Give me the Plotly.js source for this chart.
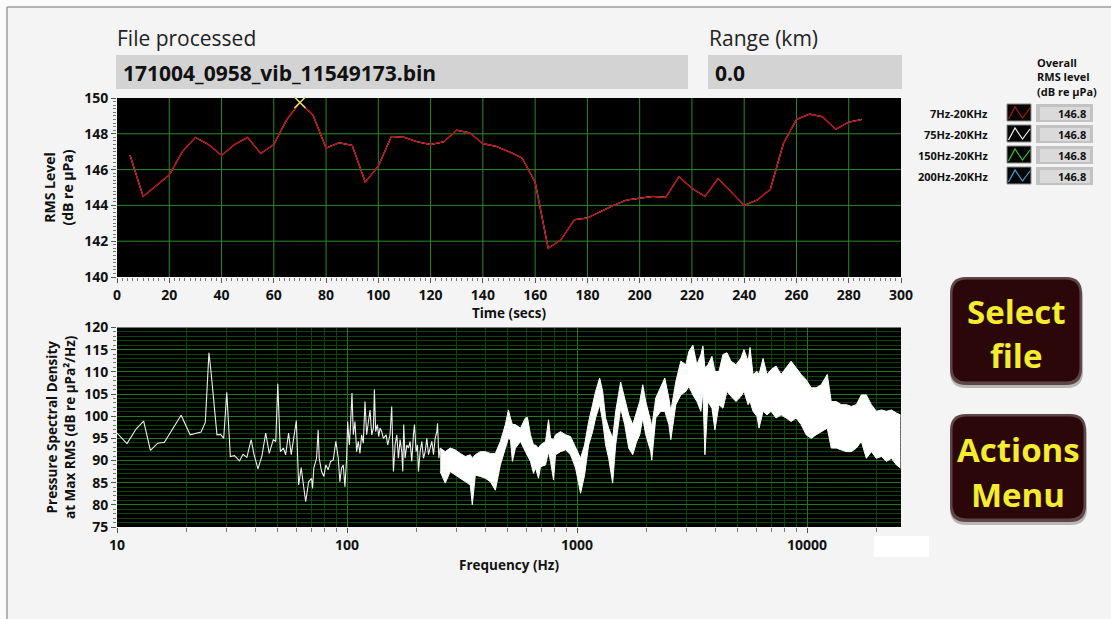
<!DOCTYPE html>
<html>
<head>
<meta charset="utf-8">
<script src="https://cdn.plot.ly/plotly-3.0.1.min.js"></script>
<style>
  html, body { margin: 0; padding: 0; background: #f4f4f4; }
  #panel { width: 1111px; height: 619px; }
</style>
</head>
<body>
<div id="panel"></div>
<script>
// ---- Recording summary ----
const fileName = '171004_0958_vib_11549173.bin';
const rangeKm = 0.0;

// ---- RMS level over time (dB re µPa), one value every 5 s ----
const timeSecs = [5, 10, 15, 20, 25, 30, 35, 40, 45, 50, 55, 60, 65, 70, 75, 80, 85, 90, 95, 100,
  105, 110, 115, 120, 125, 130, 135, 140, 145, 150, 155, 160, 165, 170, 175, 180, 185, 190, 195, 200,
  205, 210, 215, 220, 225, 230, 235, 240, 245, 250, 255, 260, 265, 270, 275, 280, 285];
const rmsLevel = [146.8, 144.5, 145.1, 145.7, 147.0, 147.8, 147.4, 146.8, 147.4, 147.8, 146.9, 147.4, 148.8, 149.75, 149.05, 147.2, 147.5, 147.35, 145.3, 146.2,
  147.85, 147.8, 147.55, 147.4, 147.55, 148.2, 148.05, 147.45, 147.3, 147.0, 146.65, 145.3, 141.6, 142.1, 143.2, 143.3, 143.65, 144.0, 144.3, 144.4,
  144.5, 144.45, 145.6, 144.95, 144.5, 145.5, 144.75, 144.0, 144.3, 144.9, 147.45, 148.8, 149.1, 148.95, 148.25, 148.65, 148.8];

// ---- Frequency bands and their overall RMS level ----
const bandNames = ['7Hz-20KHz', '75Hz-20KHz', '150Hz-20KHz', '200Hz-20KHz'];
const overallRms = [146.8, 146.8, 146.8, 146.8];

// ---- PSD at the max-RMS instant, low-frequency part (single line) ----
const psdLineFreq = [10.0, 11.05, 12.1, 13.06, 13.97, 15.03, 16.07, 17.48, 19.0, 20.8,
  23.2, 24.2, 25.1, 25.7, 26.6, 27.2, 28.2, 29.1, 30.0, 31.1,
  32.4, 34.1, 35.3, 36.7, 38.3, 39.4, 41.0, 42.7, 44.3, 45.9,
  47.8, 49.0, 50.0, 51.3, 52.9, 54.1, 55.7, 57.2, 60.2, 61.6,
  63.2, 66.1, 68.1,
  70.1, 70.8, 71.7, 73.7, 74.9, 75.7, 77.5, 79.3, 80.9, 82.8,
  84.8, 87.1, 89.4, 91.6, 93.1, 94.7, 96.3, 97.9, 99.6, 100.6,
  102.3, 103.6, 105.1, 106.5, 108.3, 110.1, 111.9, 113.8, 115.7, 117.7,
  119.7, 121.7, 123.8, 125.9, 128.0, 130.2, 131.5, 133.2, 135.5, 137.3,
  139.2, 141.5, 143.9, 147.8, 150.3, 153.8, 156.4, 159.1, 161.8, 164.5,
  167.3, 170.1, 172.9, 174.7, 176.4, 178.8, 181.9, 184.9, 188.0, 191.2,
  194.4, 196.4, 199.7, 202.4, 204.4, 207.9, 211.4, 214.9, 218.6, 222.3,
  226.0, 229.8, 233.7, 237.6, 241.6, 245.7, 247.4, 250.7, 254.1];
const psdLineLevel = [96.2, 93.8, 97.1, 98.9, 92.3, 93.9, 94.1, 97.1, 100.2, 95.8,
  96.4, 98.6, 114.3, 109.4, 100.3, 95.8, 95.9, 95.0, 105.4, 90.9,
  91.1, 89.9, 91.4, 90.7, 94.7, 91.4, 88.1, 91.1, 96.2, 91.6,
  94.7, 94.3, 107.3, 92.0, 92.8, 91.3, 96.2, 91.3, 99.0, 84.5,
  88.4, 80.7, 85.2,
  86.0, 83.7, 88.3, 90.5, 96.9, 90.5, 87.5, 86.4, 89.0, 87.9,
  89.8, 90.1, 94.3, 90.5, 85.2, 88.3, 89.0, 84.1, 90.5, 98.8,
  93.5, 98.1, 105.2, 95.8, 98.8, 92.0, 94.3, 91.6, 95.8, 93.9,
  103.3, 95.8, 98.8, 101.4, 95.8, 97.3, 106.0, 96.5, 98.1, 95.4,
  97.3, 96.5, 95.0, 95.8, 93.5, 95.8, 102.2, 87.5, 93.5, 95.8,
  90.5, 94.7, 92.0, 87.5, 98.1, 90.5, 93.5, 92.8, 94.3, 89.8,
  95.8, 98.1, 92.0, 93.5, 87.5, 92.0, 94.3, 90.5, 92.0, 95.0,
  91.3, 92.8, 94.3, 91.3, 95.0, 96.5, 98.4, 90.5, 92.8];

// ---- PSD, dense part: upper and lower envelope per frequency ----
const psdBandFreq = [254.1, 267.2, 280.9, 295.4, 310.6, 326.6, 343.4, 350.4, 361.1, 379.7,
  399.3, 419.8, 441.4, 464.1, 488.0, 502.9, 513.2, 523.6, 539.6, 567.4,
  596.5, 608.6, 627.3, 646.5, 659.6, 679.8, 693.5, 729.2, 751.5, 766.7,
  790.2, 806.2, 847.7, 891.3, 937.0, 985.2, 1036, 1078, 1123, 1168,
  1204, 1254, 1292, 1331, 1372, 1428, 1472, 1547, 1611, 1677,
  1746, 1817, 1873, 1930, 1989, 2091, 2112, 2199, 2312, 2407,
  2506, 2556, 2688, 2826, 2972, 3063, 3188, 3319, 3455, 3525,
  3596, 3706, 3858, 3976, 4139, 4308, 4484, 4668, 4909, 5160,
  5319, 5537, 5649, 5821, 6060, 6182, 6435, 6698, 6973, 7331,
  7709, 8104, 8521, 8959, 9423, 9908, 10419, 10955, 11518, 12237,
  12735, 13391, 14080, 14804, 15566, 16368, 17210, 18096, 19027, 20006,
  21037, 22118, 23257, 24454, 25449];
const psdBandHigh = [92.8, 92.0, 92.8, 92.4, 91.6, 90.9, 91.3, 90.5, 91.3, 92.0,
  92.0, 91.6, 91.6, 94.3, 98.1, 101.4, 99.6, 98.1, 98.1, 97.3,
  99.6, 99.7, 95.8, 93.5, 93.5, 92.8, 93.5, 94.3, 99.2, 95.0,
  94.7, 95.8, 96.5, 95.8, 95.4, 92.8, 90.5, 93.5, 98.8, 102.6,
  105.6, 108.6, 105.6, 99.6, 97.3, 95.0, 101.1, 107.7, 104.1, 100.3,
  98.1, 101.1, 103.3, 107.1, 103.3, 98.8, 97.5, 104.1, 106.4, 108.6,
  104.1, 101.1, 107.8, 112.4, 111.6, 114.6, 116.0, 111.6, 113.9, 115.8,
  110.9, 111.6, 113.5, 110.1, 110.1, 113.9, 114.3, 112.4, 111.6, 113.1,
  115.0, 112.4, 115.5, 109.4, 110.1, 109.4, 113.0, 109.4, 110.5, 111.3,
  109.4, 110.9, 112.4, 110.9, 109.4, 108.2, 106.4, 106.4, 107.1, 109.4,
  103.3, 103.3, 102.6, 102.6, 102.2, 102.6, 104.8, 104.8, 102.6, 101.1,
  101.4, 101.1, 101.4, 100.7, 100.3];
const psdBandLow = [87.5, 84.9, 87.5, 86.7, 86.0, 85.2, 84.5, 80.0, 86.7, 86.4,
  86.0, 85.2, 83.3, 89.0, 92.8, 95.0, 94.7, 89.8, 92.8, 94.3,
  92.0, 91.0, 89.8, 87.1, 88.3, 86.0, 88.6, 89.0, 92.0, 89.8,
  85.6, 91.3, 92.0, 92.4, 91.3, 88.3, 82.6, 86.7, 93.5, 96.5,
  99.6, 102.6, 98.8, 93.5, 90.5, 84.9, 93.5, 101.8, 98.1, 92.8,
  91.3, 94.3, 95.8, 99.6, 95.8, 92.0, 90.1, 99.6, 101.1, 101.1,
  98.1, 94.7, 102.6, 104.8, 105.6, 106.7, 104.8, 103.3, 101.1, 105.6,
  91.3, 103.3, 101.8, 96.9, 102.6, 101.8, 105.6, 104.5, 103.3, 104.5,
  105.6, 102.6, 103.3, 101.1, 99.9, 97.3, 101.1, 100.3, 101.1, 99.6,
  100.3, 99.6, 98.8, 99.6, 98.1, 95.8, 95.0, 95.8, 96.5, 97.3,
  92.8, 92.8, 92.4, 92.0, 92.0, 92.8, 94.3, 90.5, 92.0, 90.5,
  90.9, 89.8, 90.5, 89.0, 88.3];

const freqTicks = [10, 100, 1000, 10000];
const freqMax = 25600;

// ---- Styling ----
const bandColors = ['#b0121a', '#f2f2f2', '#3fc03f', '#4aa3d6'];
const gridGreen = '#2a8a2a';
const W = 1111, H = 619;
const X = v => v / W;
const Y = v => 1 - v / H;
const FONT = 'Open Sans, Noto Sans, Liberation Sans, sans-serif';

// RMS chart scale
const timeRange = [0, 300], timeStep = 20;
const rmsRange = [140, 150], rmsStep = 2;

// minor gridline positions on the log axis (2..9 in each decade)
const minorFreq = [];
for (let d = 1; d <= 4; d++) {
  for (let k = 2; k <= 9; k++) {
    const v = k * Math.pow(10, d);
    if (v < freqMax) minorFreq.push(v);
  }
}
// minor tick positions for the RMS axes
const minorTime = [];
for (let t = 0; t <= 300; t += 2) if (t % 20 !== 0) minorTime.push(t);
const minorRms = [];
for (let k = 1400; k <= 1500; k += 2) if (k % 20 !== 0) minorRms.push(k / 10);
const minorPsd = [];
for (let v = 75; v <= 120; v += 1) if (v % 5 !== 0) minorPsd.push(v);

// ---- Traces ----
const traces = [];
// RMS chart grid, drawn as one path of segments behind the data
const gx = [], gy = [];
for (let t = timeRange[0] + timeStep; t < timeRange[1]; t += timeStep) {
  gx.push(t, t, null); gy.push(rmsRange[0], rmsRange[1], null);
}
for (let v = rmsRange[0] + rmsStep; v < rmsRange[1]; v += rmsStep) {
  gx.push(timeRange[0], timeRange[1], null); gy.push(v, v, null);
}
traces.push({
  type: 'scatter', mode: 'lines', x: gx, y: gy, xaxis: 'x', yaxis: 'y',
  connectgaps: false, line: { color: gridGreen, width: 1 }
});
// draw bands so that the broadest band ends up on top
for (let i = bandNames.length - 1; i >= 0; i--) {
  traces.push({
    type: 'scatter', mode: 'lines', name: bandNames[i],
    x: timeSecs, y: rmsLevel, xaxis: 'x', yaxis: 'y',
    line: { color: bandColors[i], width: i === 0 ? 1.6 : 1 }
  });
}
// cursor at the maximum RMS value
const iMax = rmsLevel.indexOf(Math.max(...rmsLevel));
traces.push({
  type: 'scatter', mode: 'markers', x: [timeSecs[iMax]], y: [rmsLevel[iMax]],
  xaxis: 'x', yaxis: 'y', cliponaxis: false,
  marker: { symbol: 'x-thin', size: 11, line: { color: '#dede78', width: 1.6 } }
});
// spectrum
traces.push({
  type: 'scatter', mode: 'lines', x: psdLineFreq, y: psdLineLevel,
  xaxis: 'x2', yaxis: 'y2', line: { color: '#f0f0f0', width: 1.1 }
});
traces.push({
  type: 'scatter', mode: 'lines', x: psdBandFreq, y: psdBandLow,
  xaxis: 'x2', yaxis: 'y2', line: { color: '#ffffff', width: 1 }
});
traces.push({
  type: 'scatter', mode: 'lines', x: psdBandFreq, y: psdBandHigh,
  xaxis: 'x2', yaxis: 'y2', line: { color: '#ffffff', width: 1 },
  fill: 'tonexty', fillcolor: '#ffffff'
});

// ---- Panel decorations ----
function roundRect(x0, y0, x1, y1, r) {
  const f = (a, b) => X(a).toFixed(5) + ',' + Y(b).toFixed(5);
  return 'M' + f(x0 + r, y0) + ' L' + f(x1 - r, y0) + ' Q' + f(x1, y0) + ' ' + f(x1, y0 + r) +
    ' L' + f(x1, y1 - r) + ' Q' + f(x1, y1) + ' ' + f(x1 - r, y1) +
    ' L' + f(x0 + r, y1) + ' Q' + f(x0, y1) + ' ' + f(x0, y1 - r) +
    ' L' + f(x0, y0 + r) + ' Q' + f(x0, y0) + ' ' + f(x0 + r, y0) + ' Z';
}
const rect = (x0, y0, x1, y1, fill, line, lw) => ({
  type: 'rect', xref: 'paper', yref: 'paper',
  x0: X(x0), x1: X(x1), y0: Y(y1), y1: Y(y0),
  fillcolor: fill, line: { color: line || fill, width: lw || 0 }
});

const shapes = [];
// panel frame
shapes.push(rect(0, 0, W, 7, '#fbfbfb'));
shapes.push(rect(0, 0, 7, H, '#fbfbfb'));
shapes.push({ type: 'line', xref: 'paper', yref: 'paper', x0: X(7), x1: X(W), y0: Y(7), y1: Y(7), line: { color: '#9c9c9c', width: 1.5 } });
shapes.push({ type: 'line', xref: 'paper', yref: 'paper', x0: X(7), x1: X(7), y0: Y(7), y1: Y(H), line: { color: '#9c9c9c', width: 1.5 } });
// indicator fields
shapes.push(rect(116, 55, 688, 89, '#d3d3d3'));
shapes.push(rect(708, 55, 902, 89, '#d3d3d3'));
// small blank field under the spectrum
shapes.push(rect(874, 536, 929, 557, '#ffffff'));

// band legend rows
const rowTop = [104, 125, 146, 167];
bandNames.forEach((name, i) => {
  const t = rowTop[i], b = t + 17;
  shapes.push(rect(1007, t, 1031, b, '#050505', '#8a8a8a', 1));
  const p = (a, c) => X(a).toFixed(5) + ',' + Y(c).toFixed(5);
  shapes.push({
    type: 'path', xref: 'paper', yref: 'paper',
    path: 'M' + p(1008.5, b - 2) + ' L' + p(1015, t + 3) + ' L' + p(1022.5, b - 3) + ' L' + p(1030, t + 4),
    line: { color: bandColors[i], width: 1.2 }
  });
  shapes.push(rect(1036, t, 1093, b + 1, '#c2c2c2'));
  shapes.push(rect(1040, t + 3, 1090, b - 1, '#dadada'));
});

// buttons
function button(x0, y0, x1, y1) {
  shapes.push({ type: 'path', xref: 'paper', yref: 'paper', path: roundRect(x0, y0 + 4, x1 + 1, y1 + 3, 16), fillcolor: 'rgba(40,20,20,0.28)', line: { width: 0 } });
  shapes.push({ type: 'path', xref: 'paper', yref: 'paper', path: roundRect(x0, y0, x1, y1, 16), fillcolor: '#5c4647', line: { width: 0 } });
  shapes.push({ type: 'path', xref: 'paper', yref: 'paper', path: roundRect(x0 + 2.5, y0 + 2.5, x1 - 2.5, y1 - 3.5, 14), fillcolor: '#2b0709', line: { width: 0 } });
}
button(950, 277, 1082, 385);
button(950, 414, 1086, 522);

// ---- Text ----
const ann = [];
const txt = (x, y, text, opts) => Object.assign({
  xref: 'paper', yref: 'paper', x: X(x), y: Y(y), text: text, showarrow: false,
  xanchor: 'left', yanchor: 'middle', font: { family: FONT, size: 11, color: '#111' }
}, opts || {});

ann.push(txt(115, 38, 'File processed', { font: { family: FONT, size: 21, color: '#222' } }));
ann.push(txt(707, 38, 'Range (km)', { font: { family: FONT, size: 21, color: '#222' } }));
ann.push(txt(121, 73, fileName, { font: { family: FONT, size: 21, color: '#111', weight: 'bold' } }));
ann.push(txt(713, 73, rangeKm.toFixed(1), { font: { family: FONT, size: 21, color: '#111', weight: 'bold' } }));
ann.push(txt(1035, 53, 'Overall<br>RMS level<br>(dB re µPa)', { yanchor: 'top', align: 'left', font: { family: FONT, size: 11, color: '#111', weight: 'bold' } }));
bandNames.forEach((name, i) => {
  const cy = rowTop[i] + 9;
  ann.push(txt(990, cy, name, { xanchor: 'right', font: { family: FONT, size: 11, color: '#111', weight: 'bold' } }));
  ann.push(txt(1088, cy, overallRms[i].toFixed(1), { xanchor: 'right', font: { family: FONT, size: 11, color: '#111', weight: 'bold' } }));
});
const btnFont = { family: FONT, size: 33, color: '#f4ec2e', weight: 'bold' };
ann.push(txt(1016, 311, 'Select', { xanchor: 'center', font: btnFont }));
ann.push(txt(1016, 355, 'file', { xanchor: 'center', font: btnFont }));
ann.push(txt(1018, 449, 'Actions', { xanchor: 'center', font: btnFont }));
ann.push(txt(1018, 494, 'Menu', { xanchor: 'center', font: btnFont }));

// ---- Axes ----
const tickFont = { family: FONT, size: 14, color: '#111', weight: 'bold' };
const titleFont = { family: FONT, size: 13.5, color: '#111', weight: 'bold' };
const common = {
  showline: false, zeroline: false, ticks: 'outside', ticklen: 5, tickcolor: '#555',
  tickfont: tickFont, fixedrange: true
};

const layout = {
  width: W, height: H,
  margin: { l: 0, r: 0, t: 0, b: 0 },
  paper_bgcolor: '#f4f4f4',
  plot_bgcolor: '#000000',
  showlegend: false,
  hovermode: false,
  font: { family: FONT },
  xaxis: Object.assign({}, common, {
    domain: [X(117), X(901)], anchor: 'y', range: timeRange,
    tickmode: 'linear', tick0: timeRange[0], dtick: timeStep, showgrid: false,
    minor: { tickmode: 'array', tickvals: minorTime, ticks: 'outside', ticklen: 3, tickcolor: '#777', showgrid: false },
    title: { text: 'Time (secs)', font: titleFont, standoff: 3 }
  }),
  yaxis: Object.assign({}, common, {
    domain: [Y(277), Y(98)], anchor: 'x', range: rmsRange,
    tickmode: 'linear', tick0: rmsRange[0], dtick: rmsStep, showgrid: false,
    minor: { tickmode: 'array', tickvals: minorRms, ticks: 'outside', ticklen: 3, tickcolor: '#777', showgrid: false },
    title: { text: 'RMS Level<br>(dB re µPa)', font: { family: FONT, size: 14, color: '#111', weight: 'bold' }, standoff: 7 }
  }),
  xaxis2: Object.assign({}, common, {
    domain: [X(117), X(901)], anchor: 'y2', type: 'log',
    range: [1, Math.log10(freqMax)],
    tickmode: 'array', tickvals: freqTicks, ticktext: freqTicks.map(String),
    showgrid: true, gridcolor: '#1f7a1f', gridwidth: 1,
    minor: { tickmode: 'array', tickvals: minorFreq, ticks: 'outside', ticklen: 4, tickcolor: '#777', showgrid: true, gridcolor: '#0f440f', gridwidth: 1 },
    title: { text: 'Frequency (Hz)', font: titleFont, standoff: 7 }
  }),
  yaxis2: Object.assign({}, common, {
    domain: [Y(527), Y(327.5)], anchor: 'x2', range: [75, 120],
    tickmode: 'linear', tick0: 75, dtick: 5,
    showgrid: true, gridcolor: '#1f7a1f', gridwidth: 1,
    minor: { tickmode: 'array', tickvals: minorPsd, ticks: 'outside', ticklen: 3, tickcolor: '#777', showgrid: true, gridcolor: '#0f440f', gridwidth: 1 },
    title: { text: 'Pressure Spectral Density<br>at Max RMS (dB re µPa²/Hz)', font: titleFont, standoff: 5 }
  }),
  shapes: shapes,
  annotations: ann
};

Plotly.newPlot('panel', traces, layout, { staticPlot: true, displayModeBar: false });
</script>
</body>
</html>
